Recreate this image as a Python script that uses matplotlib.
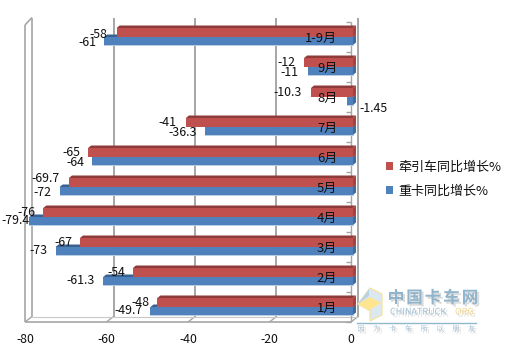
import matplotlib
matplotlib.use("Agg")
import matplotlib.pyplot as plt
from matplotlib.patches import Polygon, Rectangle
from matplotlib.lines import Line2D
import matplotlib.patheffects as pe

W, H = 513, 357
plt.rcParams['font.family'] = ['Noto Sans CJK SC', 'DejaVu Sans']

categories = ['1月', '2月', '3月', '4月', '5月', '6月', '7月', '8月', '9月', '1-9月']
tractor = [-48, -54, -67, -76, -69.7, -65, -41, -10.3, -12, -58]
heavy = [-49.7, -61.3, -73, -79.4, -72, -64, -36.3, -1.45, -11, -61]
xticks = [-80, -60, -40, -20, 0]
series_names = ['牵引车同比增长%', '重卡同比增长%']

RED, RED_D, RED_S = '#C0504D', '#8E3B39', '#A5423F'
BLUE, BLUE_D, BLUE_S = '#4F81BD', '#3A6190', '#3F6A9E'
GRID = '#A6A6A6'

fig = plt.figure(figsize=(W / 100, H / 100), dpi=100, facecolor='white')
# front plane of the 3D box: x 25..351, y 22..322 px
ax = fig.add_axes([25 / W, 1 - 322 / H, 326 / W, 300 / H])
ax.set_xlim(-80, 0)
ax.set_ylim(0, len(categories))
ax.axis('off')

px = 80 / 326          # data units per pixel, x
py = 1 / 30            # data units per pixel, y
DX, DY = 7 * px, 5.5 * py  # box depth
bx = 2 * px            # bars sit slightly behind the front plane
sx, sy = 3 * px, 2.5 * py  # bar depth


def L(xs, ys, **kw):
    kw.setdefault('color', GRID)
    kw.setdefault('lw', 1.2)
    ax.add_line(Line2D(xs, ys, clip_on=False, solid_capstyle='butt', **kw))


# walls and gridlines
n = len(categories)
for t in xticks:
    L([t + DX, t + DX], [DY, n + DY - 1 * py], zorder=1, lw=1.4 if t > -80 else 1.2)
    L([t, t + DX], [0, DY], zorder=1, lw=1.0)
    ax.text(t, -17.5 * py, str(t), ha='center', va='center', fontsize=8.8, color='#111111')
L([-80, 0], [0, 0], zorder=1, lw=1.2)
L([-80 + DX, DX], [DY, DY], zorder=1, lw=0.8, color='#C8C8C8')
L([-80, -80], [0, n - 0.1], zorder=1)
L([-80, -80 + DX], [n - 0.1, n + DY - 1 * py], zorder=1)
L([0, 0], [0, n], zorder=1, lw=1.0)
for i in range(n + 1):
    L([-1.2, 0], [i, i], zorder=1, lw=1.0)


def draw_bar(v, y0, h, face, top, side, z):
    x0, x1 = v + bx, bx
    ax.barh(y0, x1 - x0, height=h, left=x0, align='edge', color=face, zorder=z,
            edgecolor='none', clip_on=False)
    ytop = y0 + h
    ax.add_patch(Polygon([(x0, ytop), (x0 + sx, ytop + sy), (x1 + sx, ytop + sy), (x1, ytop)],
                         closed=True, fc=top, ec='none', zorder=z, clip_on=False))
    ax.add_patch(Polygon([(x1, y0), (x1 + sx, y0 + sy), (x1 + sx, ytop + sy), (x1, ytop)],
                         closed=True, fc=side, ec='none', zorder=z, clip_on=False))


h_red, h_blue = 9 * py, 8 * py
for i in range(n):
    c = i + 0.5
    draw_bar(heavy[i], c - h_blue, h_blue, BLUE, BLUE_D, BLUE_S, 3)
    draw_bar(tractor[i], c, h_red, RED, RED_D, RED_S, 4)
    # thin pale underline of the blue bar
    ax.plot([heavy[i] + bx, bx], [c - h_blue, c - h_blue], color='#B8CCE4', lw=0.7, zorder=3, clip_on=False)
    ax.text(-3.4, c - 1 * py, categories[i], ha='right', va='center', fontsize=9.4,
            color='#111111', zorder=8)

# data labels: offset (px) of label's right edge and centre from the bar end
red_off = [(-8, 5), (-8, 4), (-8, 4), (-8, 4), (-9, 9), (-8, 4), (-9, 5), (-9, 4), (-9, 4), (-9, 3)]
blue_off = [(-8, -4), (-8, -4), (-8, -4), (0, -3), (-8, -5), (-8, -5), (-8, -5), (0, 0), (-10, -5), (-8, -5)]
LBL = 8.9
for i in range(n):
    c = i + 0.5
    dx, dy = red_off[i]
    ax.annotate(str(tractor[i]), (tractor[i] + bx, c), xytext=(dx * 0.72, dy * 0.72),
                textcoords='offset points', ha='right', va='center', fontsize=LBL,
                color='#111111', zorder=9, annotation_clip=False)
    if categories[i] == '8月':
        ax.annotate(str(heavy[i]), (heavy[i] + bx, c), xytext=(12 * 0.72, -11 * 0.72),
                    textcoords='offset points', ha='left', va='center', fontsize=LBL,
                    color='#111111', zorder=9, annotation_clip=False)
    else:
        dx, dy = blue_off[i]
        ax.annotate(str(heavy[i]), (heavy[i] + bx, c), xytext=(dx * 0.72, dy * 0.72),
                    textcoords='offset points', ha='right', va='center', fontsize=LBL,
                    color='#111111', zorder=9, annotation_clip=False)

# legend
handles = [Rectangle((0, 0), 1, 1, fc=RED), Rectangle((0, 0), 1, 1, fc=BLUE)]
fig.legend(handles, series_names, loc='upper left', bbox_to_anchor=(386 / W, 1 - 161 / H),
           frameon=False, fontsize=9.4, handlelength=0.55, handleheight=0.55,
           handletextpad=0.42, labelspacing=0.82, borderpad=0, borderaxespad=0,
           labelcolor='#111111')

# watermark (figure pixel coordinates)
ov = fig.add_axes([0, 0, 1, 1], zorder=20)
ov.set_xlim(0, W)
ov.set_ylim(H, 0)
ov.axis('off')
ov.patch.set_alpha(0)
ov.add_patch(Polygon([(358, 304), (370, 288), (382, 294), (382, 315), (370, 321), (370, 311)],
                     closed=True, fc='#DCE8F0', ec='#F6E3A0', lw=0.9))
ov.add_patch(Polygon([(358, 304), (370, 297), (381, 303), (370, 310)], closed=True, fc='#FFE58F', ec='none'))
ov.add_patch(Polygon([(358, 304), (369, 289), (369, 296)], closed=True, fc='#B8D3E4', ec='none'))
shadow = [pe.withSimplePatchShadow(offset=(1.5, -1.5), shadow_rgbFace='#999999', alpha=0.35)]
for i, ch in enumerate('中国卡车网'):
    ov.text(396 + i * 18.5, 298, ch, ha='center', va='center', fontsize=12, color='#8FB4CC',
            fontweight='bold', path_effects=shadow)
ov.text(390, 312, 'CHINATRUCK', ha='left', va='center', fontsize=6.5, color='#9DBFD4', path_effects=shadow)
ov.text(455, 312, 'ORG', ha='left', va='center', fontsize=6.5, color='#F3D98A', path_effects=shadow)
ov.plot([357, 476], [322.5, 322.5], color='#8FB8CC', lw=1.0)
for i, ch in enumerate('因为卡车所以朋友'):
    ov.text(361 + i * 15.8, 329, ch, ha='center', va='center', fontsize=5.2, color='#A9C0D2',
            path_effects=shadow)

fig.savefig('out.png', dpi=100, facecolor='white')
